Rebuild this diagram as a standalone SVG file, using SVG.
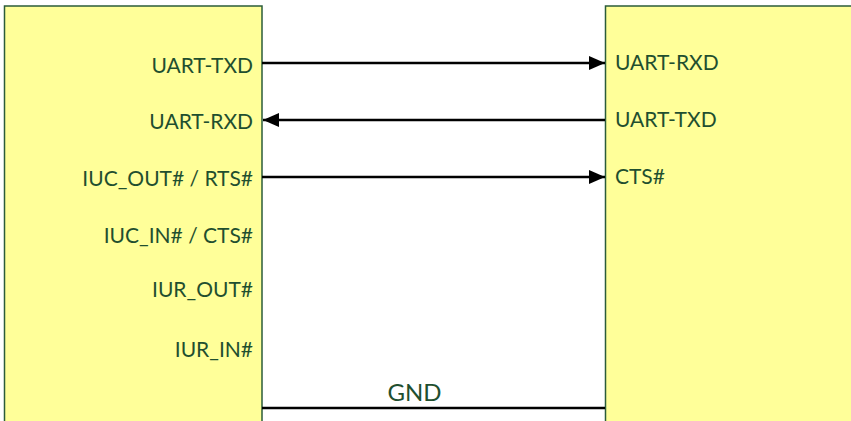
<svg xmlns="http://www.w3.org/2000/svg" width="851" height="421" viewBox="0 0 851 421">
<defs>
<marker id="ah" viewBox="0 0 16 14" refX="16" refY="7" markerWidth="16" markerHeight="14" markerUnits="userSpaceOnUse" orient="auto">
<path d="M0,0 L16,7 L0,14 Z" fill="#000"/>
</marker>
</defs>
<style>
.box{fill:#ffff99;stroke:#2b5c3a;stroke-width:1.5}
.lbl{font-family:Lato,"Open Sans",sans-serif;font-size:21px;fill:#1f4f2f}
.r{text-anchor:end}
.w{stroke:#000;stroke-width:2.5;fill:none}
</style>
<g id="left-device">
<rect class="box" x="4.5" y="6" width="257.5" height="430"/>
<text class="lbl r" x="253" y="73">UART-TXD</text>
<text class="lbl r" x="253" y="129">UART-RXD</text>
<text class="lbl r" x="253" y="186">IUC_OUT# / RTS#</text>
<text class="lbl r" x="253" y="243">IUC_IN# / CTS#</text>
<text class="lbl r" x="253" y="297">IUR_OUT#</text>
<text class="lbl r" x="253" y="357">IUR_IN#</text>
</g>
<g id="right-device">
<rect class="box" x="605.5" y="6" width="260" height="430"/>
<text class="lbl" x="615" y="70">UART-RXD</text>
<text class="lbl" x="615" y="127">UART-TXD</text>
<text class="lbl" x="615" y="184">CTS#</text>
</g>
<g id="connectors">
<line class="w" x1="262" y1="63" x2="605" y2="63" marker-end="url(#ah)"/>
<line class="w" x1="605" y1="120" x2="263" y2="120" marker-end="url(#ah)"/>
<line class="w" x1="262" y1="177" x2="605" y2="177" marker-end="url(#ah)"/>
<line class="w" x1="262" y1="408" x2="605" y2="408"/>
<text class="lbl" x="414.5" y="401" text-anchor="middle" style="font-size:24px">GND</text>
</g>
</svg>
